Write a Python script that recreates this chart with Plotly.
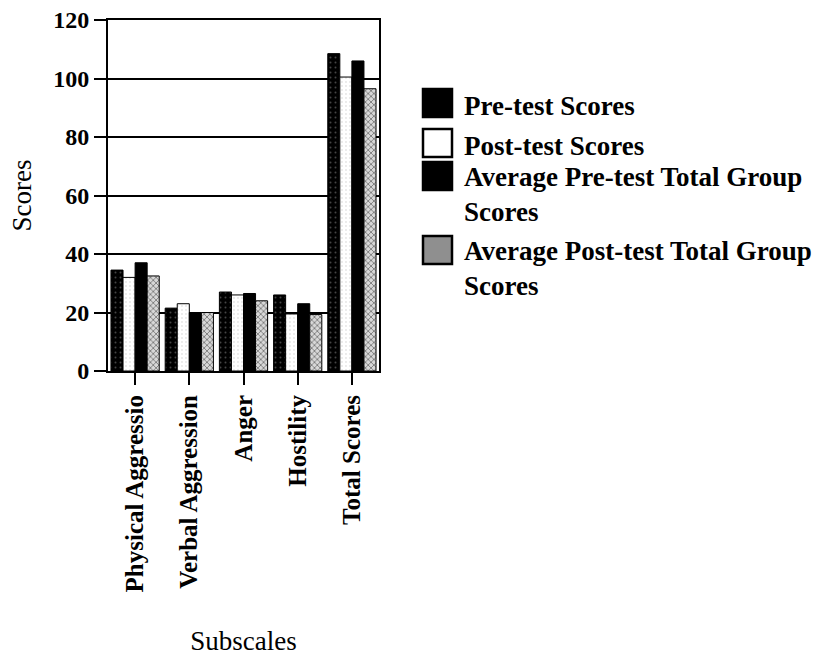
import plotly.graph_objects as go

# Subscale scores (pre/post for the individual vs. group averages)
subscales = ["Physical Aggressio", "Verbal Aggression", "Anger", "Hostility", "Total Scores"]
pre_scores = [34.5, 21.5, 27.0, 26.0, 108.5]
post_scores = [32.0, 23.0, 26.0, 19.5, 100.5]
avg_pre_group = [37.0, 20.0, 26.5, 23.0, 106.0]
avg_post_group = [32.5, 20.0, 24.0, 19.3, 96.5]

series_names = [
    "Pre-test Scores",
    "Post-test Scores",
    "Average Pre-test Total Group<br>Scores",
    "Average Post-test Total Group<br>Scores",
]
y_ticks = [0, 20, 40, 60, 80, 100, 120]

W, H = 825, 659
L, R, T, B = 108, 446, 20, 288
PW, PH = W - L - R, H - T - B

SERIF = "Liberation Serif"


def px_x(p):
    return (p - L) / PW


def px_y(p):
    return (H - B - p) / PH


fig = go.Figure()

edge = dict(color="black", width=1)
fig.add_trace(go.Bar(
    x=subscales, y=pre_scores, name=series_names[0],
    marker=dict(color="black", line=edge,
                pattern=dict(shape=".", bgcolor="black", fgcolor="#8a8a8a",
                             size=5, solidity=0.12)),
))
fig.add_trace(go.Bar(
    x=subscales, y=post_scores, name=series_names[1],
    marker=dict(color="white", line=edge,
                pattern=dict(shape=".", bgcolor="white", fgcolor="#9a9a9a",
                             size=4, solidity=0.1)),
))
fig.add_trace(go.Bar(
    x=subscales, y=avg_pre_group, name=series_names[2],
    marker=dict(color="black", line=edge),
))
fig.add_trace(go.Bar(
    x=subscales, y=avg_post_group, name=series_names[3],
    marker=dict(color="#cfcfcf", line=edge,
                pattern=dict(shape="x", bgcolor="#d8d8d8", fgcolor="black",
                             size=4, solidity=0.35)),
))

# Legend drawn as large swatches with labels to the right of the plot
swatch_centers = [103, 143, 176, 250]
text_centers = [106, 146, 194, 268]
swatch_fills = ["black", "white", "black", "#8f8f8f"]
shapes = []
annotations = []
for name, cy, ty, fill in zip(series_names, swatch_centers, text_centers, swatch_fills):
    shapes.append(dict(
        type="rect", xref="paper", yref="paper",
        x0=px_x(423), x1=px_x(452), y0=px_y(cy + 14), y1=px_y(cy - 14),
        fillcolor=fill, line=dict(color="black", width=2.5),
    ))
    annotations.append(dict(
        text=name, xref="paper", yref="paper",
        x=px_x(462), y=px_y(ty), xanchor="left", yanchor="middle",
        align="left", showarrow=False,
        font=dict(family=SERIF, size=27, color="black", weight="bold"),
    ))

fig.update_layout(
    width=W, height=H,
    margin=dict(l=L, r=R, t=T, b=B, autoexpand=False),
    paper_bgcolor="white", plot_bgcolor="white",
    barmode="group", bargap=0.11, bargroupgap=0,
    showlegend=False,
    shapes=shapes, annotations=annotations,
    font=dict(family=SERIF, color="black"),
)

fig.update_xaxes(
    categoryorder="array", categoryarray=subscales,
    tickangle=-90, ticks="outside", ticklen=12, tickwidth=2, tickcolor="black",
    showline=True, linewidth=2, linecolor="black", mirror=True,
    tickfont=dict(family=SERIF, size=25, color="black", weight="bold"),
    title=dict(text="Subscales", standoff=40,
               font=dict(family=SERIF, size=27, color="black")),
    automargin=False,
)
fig.update_yaxes(
    range=[0, 120], tickvals=y_ticks,
    showgrid=True, gridcolor="black", gridwidth=2, zeroline=False,
    ticks="outside", ticklen=12, tickwidth=2, tickcolor="black",
    showline=True, linewidth=2, linecolor="black", mirror=True,
    tickfont=dict(family=SERIF, size=24, color="black", weight="bold"),
    title=dict(text="Scores", standoff=14,
               font=dict(family=SERIF, size=27, color="black")),
    automargin=False,
)

fig.write_html("out.html")
